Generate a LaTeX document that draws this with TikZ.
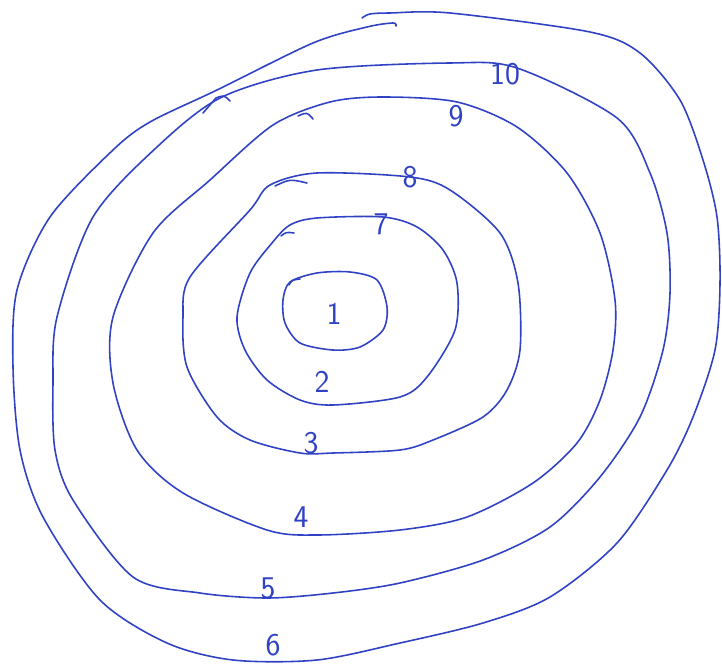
\documentclass[tikz,border=0pt]{standalone}
\usepackage{tikz}

\definecolor{inkblue}{RGB}{48,66,196}

\begin{document}
\begin{tikzpicture}[
    x=0.02cm, y=-0.02cm,
    every node/.style={text=inkblue},
    pen/.style={line width=0.9pt, color=inkblue, line cap=round, line join=round},
    digit/.style={font=\sffamily\fontsize{18}{18}\selectfont, inner sep=0pt}
]

    \useasboundingbox (0,0) rectangle (722,665);

    % ==========================
    % RINGS, inside out
    % ==========================
    % ring 1
    \draw[pen] plot[smooth cycle] coordinates {
        (290,282) (317,273) (350,272) (377,280) (387,307) (383,330)
        (360,347) (333,350) (300,343) (285,323) (283,300)};
    \draw[pen] (289,285) .. controls (292,280) .. (300,279);

    % ring 2
    \draw[pen] plot[smooth cycle] coordinates {
        (272,243) (290,225) (317,218) (383,217) (417,227) (443,250)
        (457,283) (455,330) (427,377) (400,397) (333,405) (300,400)
        (267,380) (245,350) (237,317) (250,273)};
    \draw[pen] (281,236) .. controls (286,232) .. (294,233);

    % ring 3
    \draw[pen] plot[smooth cycle] coordinates {
        (270,185) (317,173) (410,177) (450,190) (500,233) (518,283)
        (520,350) (507,390) (483,417) (433,440) (400,450) (333,453)
        (300,453) (250,440) (217,417) (187,367) (183,317) (190,277)
        (250,210)};
    \draw[pen] (275,186) .. controls (290,179) .. (307,183);

    % ring 4
    \draw[pen] plot[smooth cycle] coordinates {
        (273,125) (330,102) (383,97) (457,102) (517,127) (567,173)
        (600,233) (615,300) (613,350) (600,400) (577,443) (533,483)
        (467,517) (400,530) (317,535) (267,530) (183,493) (137,450)
        (113,383) (113,317) (153,233) (210,180)};
    \draw[pen] (298,116) .. controls (307,112) .. (313,119);

    % ring 5
    \draw[pen] plot[smooth cycle] coordinates {
        (222,97) (317,70) (450,63) (517,68) (617,118) (650,173)
        (667,233) (670,293) (663,350) (640,417) (600,477) (550,527)
        (483,560) (400,583) (333,593) (267,598) (200,593) (133,577)
        (73,500) (55,450) (53,383) (57,317) (93,217) (157,147)};
    \draw[pen] (203,113) -- (216,98) .. controls (224,95) .. (230,101);

    % ring 6 (two strokes)
    \draw[pen] plot[smooth] coordinates {
        (362,18) (370,14) (390,13) (450,13) (590,32) (640,53)
        (680,100) (703,160) (717,217) (720,283) (715,350) (693,417)
        (667,470) (617,543) (550,597) (483,623) (400,643) (317,660)
        (233,660) (167,643) (100,600) (43,517) (20,450) (13,367)
        (17,290) (50,217) (113,150) (150,122) (217,90) (313,43)
        (367,27) (393,23) (396,26)};

    % ==========================
    % LABELS
    % ==========================
    \foreach \i/\px/\py in {
        1/334/314, 2/322/382, 3/311/443, 4/301/517, 5/268/588,
        6/273/645, 7/381/224, 8/410/177, 9/456/116, 10/505/74}
    {
        \node[digit] (L\i) at (\px,\py) {\i};
    }

\end{tikzpicture}
\end{document}
